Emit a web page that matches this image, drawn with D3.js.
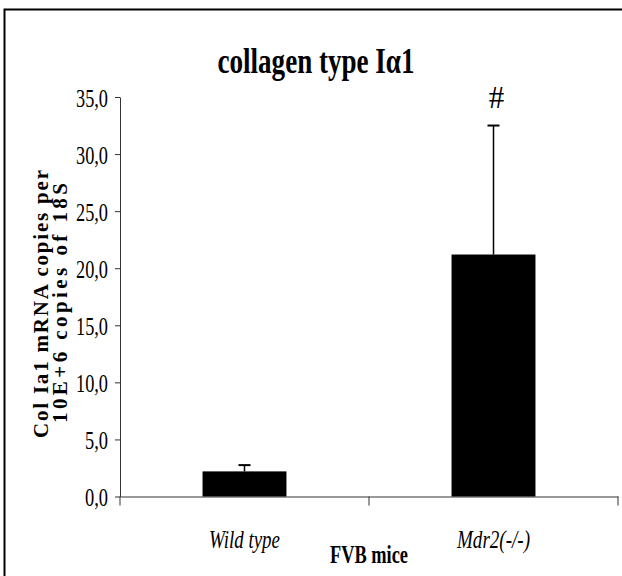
<!DOCTYPE html>
<html>
<head>
<meta charset="utf-8">
<script src="https://cdn.jsdelivr.net/npm/d3@7"></script>
<style>
  body { margin: 0; background: #fff; }
  svg text { font-family: "Liberation Serif", "Times New Roman", serif; }
</style>
</head>
<body>
<div id="chart"></div>
<script>
// data
const categories = ["Wild type", "Mdr2(-/-)"];
const values = [2.2, 21.2];
const errors = [0.55, 11.3];
const marks = ["", "#"];
const yTicks = [0, 5, 10, 15, 20, 25, 30, 35];

const width = 622, height = 576;
const svg = d3.select("#chart").append("svg")
  .attr("width", width)
  .attr("height", height);

// frame (only top and left edges visible)
svg.append("path")
  .attr("d", `M4.5,${height} V9.5 H${width}`)
  .attr("fill", "none")
  .attr("stroke", "#000")
  .attr("stroke-width", 2);

const y = d3.scaleLinear().domain([0, 35]).range([496.5, 97]);
const x = d3.scaleBand().domain(categories).range([120, 618])
  .paddingInner(0.663).paddingOuter(0.3315);

// y axis
const yAxis = svg.append("g")
  .attr("transform", "translate(120,0)")
  .call(d3.axisLeft(y).tickValues(yTicks).tickSize(5).tickSizeOuter(0)
    .tickFormat(d => d.toFixed(1).replace(".", ",")));
yAxis.select(".domain").attr("stroke", "#333");
yAxis.selectAll(".tick line").attr("stroke", "#333");
yAxis.selectAll(".tick text")
  .attr("x", 0).attr("dy", "0.36em")
  .attr("transform", "translate(-12,0)")
  .attr("font-size", 26)
  .attr("fill", "#000")
  .attr("textLength", d => d >= 10 ? 32 : 23)
  .attr("lengthAdjust", "spacingAndGlyphs")
  .style("font-family", "'Liberation Serif', serif");

// x axis line with ticks at category boundaries
const xAxis = svg.append("g")
  .attr("transform", `translate(0,${y(0)})`)
  .call(d3.axisBottom(x).tickSize(0).tickSizeOuter(0).tickFormat(""));
xAxis.select(".domain").attr("stroke", "#333");
const bounds = d3.range(categories.length + 1).map(i => x.range()[0] + i * x.step());
xAxis.selectAll("line.bound")
  .data(bounds)
  .enter().append("line")
  .attr("class", "bound")
  .attr("x1", d => d).attr("x2", d => d)
  .attr("y1", 0).attr("y2", 9)
  .attr("stroke", "#333");

// bars
svg.selectAll("rect.bar")
  .data(values)
  .enter().append("rect")
  .attr("class", "bar")
  .attr("x", (d, i) => x(categories[i]))
  .attr("width", x.bandwidth())
  .attr("y", d => y(d))
  .attr("height", d => y(0) - y(d))
  .attr("fill", "#000");

// error bars (upper only)
const err = svg.selectAll("g.err")
  .data(values)
  .enter().append("g")
  .attr("class", "err")
  .attr("transform", (d, i) => `translate(${x(categories[i]) + x.bandwidth() / 2},0)`);
err.append("line")
  .attr("x1", 0).attr("x2", 0)
  .attr("y1", d => y(d))
  .attr("y2", (d, i) => y(d + errors[i]))
  .attr("stroke", "#000").attr("stroke-width", 1.5);
err.append("line")
  .attr("x1", -6).attr("x2", 6)
  .attr("y1", (d, i) => y(d + errors[i]))
  .attr("y2", (d, i) => y(d + errors[i]))
  .attr("stroke", "#000").attr("stroke-width", 2);

// significance marks
svg.selectAll("text.mark")
  .data(marks)
  .enter().append("text")
  .attr("class", "mark")
  .attr("x", (d, i) => x(categories[i]) + x.bandwidth() / 2 + 3)
  .attr("y", 108)
  .attr("text-anchor", "middle")
  .attr("font-size", 31)
  .text(d => d);

// category labels
svg.selectAll("text.cat")
  .data(categories)
  .enter().append("text")
  .attr("class", "cat")
  .attr("x", d => x(d) + x.bandwidth() / 2)
  .attr("y", 548)
  .attr("text-anchor", "middle")
  .attr("font-size", 25)
  .attr("font-style", "italic")
  .attr("textLength", (d, i) => i === 0 ? 71 : 73)
  .attr("lengthAdjust", "spacingAndGlyphs")
  .text(d => d);

// x title
svg.append("text")
  .attr("x", 369).attr("y", 563)
  .attr("text-anchor", "middle")
  .attr("font-size", 26)
  .attr("font-weight", "bold")
  .attr("textLength", 78)
  .attr("lengthAdjust", "spacingAndGlyphs")
  .text("FVB mice");

// chart title
svg.append("text")
  .attr("x", 316).attr("y", 73)
  .attr("text-anchor", "middle")
  .attr("font-size", 36)
  .attr("font-weight", "bold")
  .attr("textLength", 197)
  .attr("lengthAdjust", "spacingAndGlyphs")
  .text("collagen type I\u03b11");

// y title (two lines)
const yTitle = [
  { text: "Col Ia1  mRNA copies per", x: 48, cy: 304, len: 268 },
  { text: "10E+6 copies of 18S", x: 67, cy: 303, len: 240 }
];
svg.selectAll("text.ytitle")
  .data(yTitle)
  .enter().append("text")
  .attr("class", "ytitle")
  .attr("transform", d => `translate(${d.x},${d.cy}) rotate(-90)`)
  .attr("text-anchor", "middle")
  .attr("font-size", 21)
  .attr("font-weight", "bold")
  .attr("textLength", d => d.len)
  .attr("lengthAdjust", "spacing")
  .text(d => d.text);
</script>
</body>
</html>
